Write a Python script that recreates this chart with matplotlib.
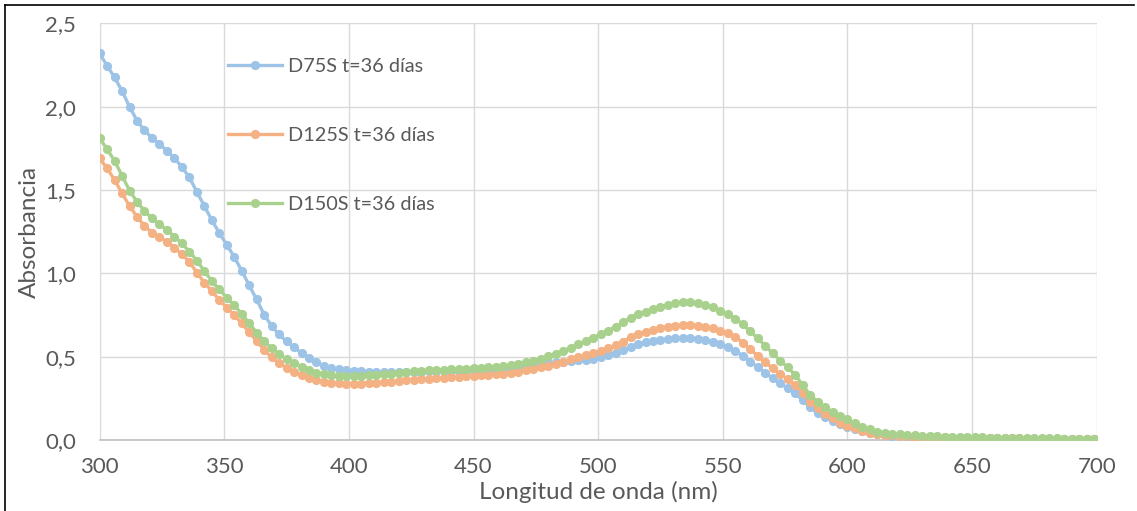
import numpy as np
import matplotlib
matplotlib.use("Agg")
import matplotlib.pyplot as plt
from matplotlib.ticker import FuncFormatter, MultipleLocator
from matplotlib.lines import Line2D

# Wavelength grid (nm)
wavelength = np.arange(300, 700, 3)

d75s = [
    2.320, 2.245, 2.176, 2.094, 2.000, 1.916, 1.858, 1.813, 1.776, 1.735,
    1.692, 1.638, 1.575, 1.489, 1.404, 1.320, 1.242, 1.172, 1.098, 1.016,
    0.928, 0.843, 0.752, 0.684, 0.633, 0.592, 0.555, 0.522, 0.492, 0.465,
    0.445, 0.432, 0.424, 0.418, 0.414, 0.411, 0.409, 0.408, 0.408, 0.408,
    0.408, 0.408, 0.409, 0.410, 0.411, 0.412, 0.413, 0.414, 0.415, 0.416,
    0.418, 0.420, 0.422, 0.425, 0.428, 0.432, 0.437, 0.442, 0.448, 0.454,
    0.460, 0.465, 0.470, 0.474, 0.477, 0.480, 0.485, 0.496, 0.510, 0.524,
    0.540, 0.558, 0.574, 0.585, 0.594, 0.600, 0.606, 0.610, 0.612, 0.610,
    0.606, 0.600, 0.590, 0.574, 0.556, 0.535, 0.504, 0.470, 0.436, 0.404,
    0.370, 0.340, 0.310, 0.280, 0.240, 0.196, 0.160, 0.136, 0.116, 0.096,
    0.080, 0.066, 0.054, 0.044, 0.036, 0.030, 0.026, 0.023, 0.020, 0.018,
    0.016, 0.015, 0.014, 0.013, 0.012, 0.011, 0.011, 0.010, 0.010, 0.009,
    0.009, 0.008, 0.008, 0.008, 0.007, 0.007, 0.007, 0.006, 0.006, 0.006,
    0.006, 0.005, 0.005, 0.005,
]

d125s = [
    1.690, 1.630, 1.560, 1.480, 1.404, 1.340, 1.284, 1.244, 1.216, 1.190,
    1.154, 1.114, 1.070, 1.004, 0.944, 0.894, 0.840, 0.794, 0.750, 0.700,
    0.646, 0.594, 0.540, 0.496, 0.460, 0.434, 0.410, 0.390, 0.374, 0.360,
    0.350, 0.344, 0.340, 0.338, 0.338, 0.338, 0.340, 0.342, 0.346, 0.350,
    0.354, 0.358, 0.362, 0.364, 0.367, 0.370, 0.373, 0.376, 0.379, 0.381,
    0.384, 0.387, 0.390, 0.394, 0.398, 0.403, 0.410, 0.417, 0.426, 0.435,
    0.445, 0.457, 0.470, 0.484, 0.496, 0.508, 0.520, 0.534, 0.550, 0.568,
    0.590, 0.616, 0.636, 0.650, 0.660, 0.670, 0.680, 0.686, 0.690, 0.690,
    0.686, 0.680, 0.670, 0.656, 0.640, 0.618, 0.584, 0.544, 0.504, 0.466,
    0.430, 0.396, 0.364, 0.330, 0.284, 0.230, 0.190, 0.156, 0.130, 0.104,
    0.084, 0.070, 0.056, 0.044, 0.038, 0.032, 0.028, 0.025, 0.022, 0.020,
    0.018, 0.017, 0.016, 0.015, 0.014, 0.013, 0.012, 0.012, 0.011, 0.011,
    0.010, 0.010, 0.009, 0.009, 0.008, 0.008, 0.008, 0.007, 0.007, 0.007,
    0.006, 0.006, 0.006, 0.006,
]

d150s = [
    1.810, 1.746, 1.674, 1.586, 1.496, 1.430, 1.374, 1.330, 1.294, 1.260,
    1.220, 1.180, 1.130, 1.076, 1.014, 0.954, 0.904, 0.854, 0.808, 0.757,
    0.700, 0.644, 0.594, 0.550, 0.516, 0.484, 0.460, 0.440, 0.420, 0.404,
    0.394, 0.388, 0.384, 0.384, 0.384, 0.386, 0.388, 0.390, 0.394, 0.398,
    0.404, 0.408, 0.412, 0.415, 0.418, 0.420, 0.422, 0.424, 0.426, 0.428,
    0.432, 0.434, 0.436, 0.440, 0.444, 0.450, 0.458, 0.466, 0.476, 0.488,
    0.502, 0.518, 0.536, 0.554, 0.574, 0.594, 0.614, 0.634, 0.656, 0.680,
    0.706, 0.734, 0.756, 0.770, 0.784, 0.800, 0.810, 0.820, 0.826, 0.826,
    0.820, 0.810, 0.796, 0.776, 0.756, 0.728, 0.694, 0.652, 0.610, 0.566,
    0.520, 0.476, 0.436, 0.390, 0.330, 0.270, 0.230, 0.196, 0.170, 0.144,
    0.124, 0.100, 0.080, 0.064, 0.050, 0.044, 0.038, 0.034, 0.030, 0.027,
    0.025, 0.023, 0.021, 0.020, 0.019, 0.018, 0.017, 0.016, 0.015, 0.014,
    0.014, 0.013, 0.012, 0.012, 0.011, 0.010, 0.010, 0.009, 0.009, 0.008,
    0.008, 0.007, 0.007, 0.007,
]

labels = ["D75S t=36 días", "D125S t=36 días", "D150S t=36 días"]
colors = ["#9DC3E6", "#F4B183", "#A9D18E"]

plt.rcParams["font.family"] = ["Lato", "DejaVu Sans"]
text_color = "#595959"

fig = plt.figure(figsize=(11.37, 5.11), dpi=100)
ax = fig.add_axes([0.0876, 0.139, 0.877, 0.8154])

for series, lab, col in zip([d75s, d125s, d150s], labels, colors):
    ax.plot(wavelength, series, color=col, lw=2.4, marker="o", ms=6.6,
            markeredgewidth=0, label=lab, zorder=3)

ax.set_xlim(300, 700)
ax.set_ylim(0, 2.5)
ax.xaxis.set_major_locator(MultipleLocator(50))
ax.yaxis.set_major_locator(MultipleLocator(0.5))
ax.yaxis.set_major_formatter(FuncFormatter(lambda v, p: f"{v:.1f}".replace(".", ",")))
ax.grid(True, color="#d9d9d9", lw=1.0, zorder=0)
ax.set_axisbelow(True)
for side in ["top", "right", "left"]:
    ax.spines[side].set_visible(False)
ax.spines["bottom"].set_color("#bfbfbf")
ax.spines["bottom"].set_linewidth(1.2)
ax.tick_params(axis="x", length=0, labelsize=16, colors=text_color, pad=12)
ax.tick_params(axis="y", length=0, labelsize=16, colors=text_color, pad=17)

ax.set_xlabel("Longitud de onda (nm)", fontsize=17.5, color=text_color, labelpad=3)
ax.set_ylabel("Absorbancia", fontsize=17.5, color=text_color, labelpad=4)

leg = ax.legend(loc="upper left", bbox_to_anchor=(0.121, 0.935), frameon=False,
                fontsize=14.3, handlelength=2.7, handletextpad=0.3,
                labelspacing=2.62, labelcolor=text_color, borderaxespad=0)

# Outer frame lines
fig.add_artist(Line2D([0.0045, 0.0045], [0.0, 0.99], transform=fig.transFigure,
                      color="black", lw=1.2))
fig.add_artist(Line2D([0.0045, 0.997], [0.99, 0.99], transform=fig.transFigure,
                      color="black", lw=1.2))

fig.savefig("out.png", dpi=100)
